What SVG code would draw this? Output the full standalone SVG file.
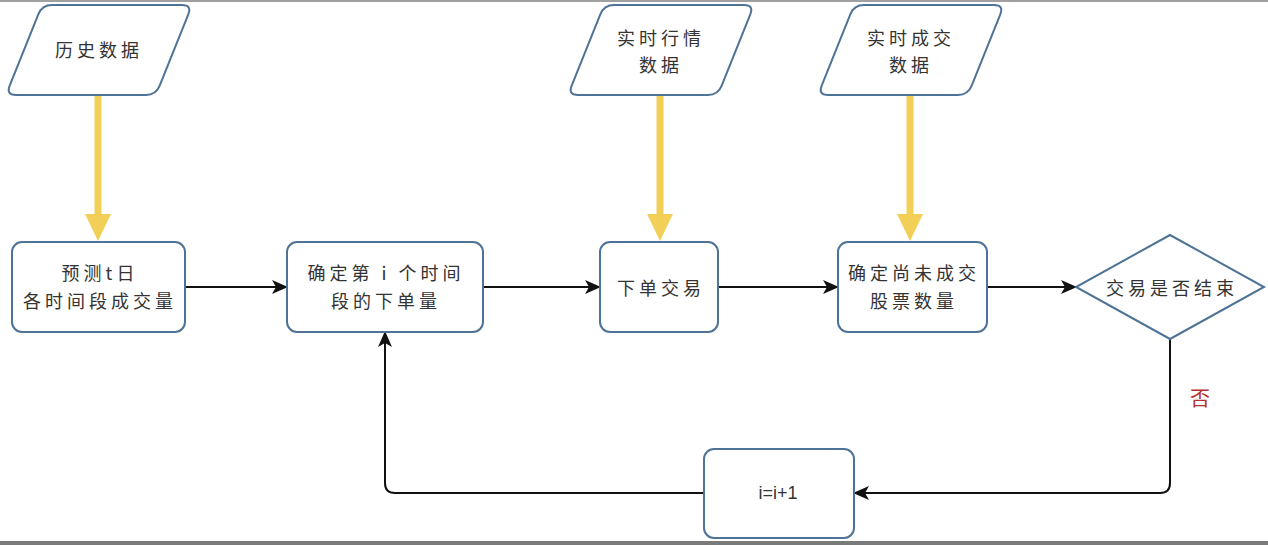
<svg xmlns="http://www.w3.org/2000/svg" xmlns:xlink="http://www.w3.org/1999/xlink" width="1268" height="545" viewBox="0 0 1268 545">
<style>
.shape{fill:#ffffff;stroke:#4f7396;stroke-width:2}
.t{font-family:"Noto Sans CJK SC","Noto Sans",sans-serif;font-size:18px;fill:#333333;text-anchor:middle;dominant-baseline:central;letter-spacing:4px}
.tl{font-family:"Liberation Sans",Arial,sans-serif;font-size:18px;fill:#333333;text-anchor:middle;dominant-baseline:central}
.no{font-family:"Noto Sans CJK SC",sans-serif;font-size:20px;fill:#b5302a;text-anchor:middle;dominant-baseline:central}
.yl{stroke:#f2cf57;stroke-width:7;fill:none}
.ya{fill:#f2cf57}
.c{stroke:#111111;stroke-width:2;fill:none}
</style>
<defs>
<path id="para" d="M52,5 L182,5 Q192,5 188.3,14.3 L159.7,85.7 Q156,95 146,95 L16,95 Q6,95 9.7,85.7 L38.3,14.3 Q42,5 52,5 Z"/>
<marker id="arr" markerUnits="userSpaceOnUse" markerWidth="16" markerHeight="14" refX="15" refY="7" orient="auto">
<path d="M0,0 L16,7 L0,14 L4,7 Z" fill="#111111"/>
</marker>
</defs>
<rect x="0" y="0" width="1268" height="545" fill="#ffffff"/>
<rect x="0" y="0" width="1268" height="2" fill="#a0a0a0"/>
<rect x="0" y="541" width="1268" height="4" fill="#7a7a7a"/>

<g id="connectors">
<line class="yl" x1="98" y1="95" x2="98" y2="216"/>
<polygon class="ya" points="85,214 111,214 98,241"/>
<line class="yl" x1="660" y1="95" x2="660" y2="216"/>
<polygon class="ya" points="647,214 673,214 660,241"/>
<line class="yl" x1="910" y1="95" x2="910" y2="216"/>
<polygon class="ya" points="897,214 923,214 910,241"/>
<line class="c" x1="185" y1="287" x2="287" y2="287" marker-end="url(#arr)"/>
<line class="c" x1="483" y1="287" x2="600" y2="287" marker-end="url(#arr)"/>
<line class="c" x1="718" y1="287" x2="838" y2="287" marker-end="url(#arr)"/>
<line class="c" x1="987" y1="287" x2="1076" y2="287" marker-end="url(#arr)"/>
<path class="c" d="M1170,339 L1170,483 Q1170,493 1160,493 L854,493" marker-end="url(#arr)"/>
<path class="c" d="M704,493 L395,493 Q385,493 385,483 L385,332" marker-end="url(#arr)"/>
<text class="no" x="1200" y="397">否</text>
</g>

<g id="n-history">
<use href="#para" class="shape"/>
<text class="t" x="99" y="49">历史数据</text>
</g>
<g id="n-market">
<use href="#para" class="shape" transform="translate(562,0)"/>
<text class="t" x="661" y="37">实时行情</text>
<text class="t" x="661" y="64">数据</text>
</g>
<g id="n-deal">
<use href="#para" class="shape" transform="translate(812,0)"/>
<text class="t" x="911" y="37">实时成交</text>
<text class="t" x="911" y="64">数据</text>
</g>
<g id="n-predict">
<rect class="shape" x="12" y="242" width="173" height="90" rx="10"/>
<text class="t" x="100" y="272">预测t日</text>
<text class="t" x="100" y="300">各时间段成交量</text>
</g>
<g id="n-order-qty">
<rect class="shape" x="287" y="242" width="196" height="90" rx="10"/>
<text class="t" x="386" y="272">确定第 i 个时间</text>
<text class="t" x="386" y="300">段的下单量</text>
</g>
<g id="n-trade">
<rect class="shape" x="600" y="242" width="118" height="90" rx="10"/>
<text class="t" x="661" y="287">下单交易</text>
</g>
<g id="n-remain">
<rect class="shape" x="838" y="242" width="149" height="90" rx="10"/>
<text class="t" x="914" y="272">确定尚未成交</text>
<text class="t" x="914" y="300">股票数量</text>
</g>
<g id="n-end">
<polygon class="shape" points="1170,235 1264,287 1170,339 1076,287"/>
<text class="t" x="1172" y="287">交易是否结束</text>
</g>
<g id="n-incr">
<rect class="shape" x="704" y="449" width="150" height="89" rx="10"/>
<text class="tl" x="778" y="493">i=i+1</text>
</g>
</svg>
